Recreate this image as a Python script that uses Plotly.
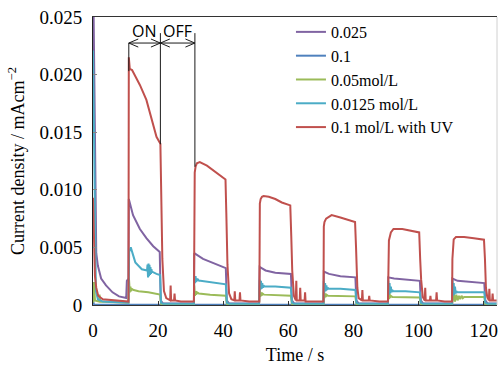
import plotly.graph_objects as go

# ---------------- data ----------------
series_names = ["0.025", "0.1", "0.05mol/L", "0.0125 mol/L", "0.1 mol/L with UV"]
series_colors = ["#8064A2", "#4F81BD", "#9BBB59", "#4BACC6", "#C0504D"]

t_purple = [0, 0.8, 1.0, 1.5, 2.5, 4, 6, 8, 10.2, 10.4, 10.9, 11.0, 12.3, 14.4, 16.4, 18.5, 20.5, 20.8, 21.5, 31.0,
            31.1, 33.8, 37.9, 40.8, 41.1, 41.8, 51.0,
            51.2, 53.0, 56.0, 60.8, 61.1, 61.8, 70.8,
            70.9, 72.5, 76.0, 80.6, 80.9, 81.6, 90.6,
            90.7, 92.5, 96.0, 100.4, 100.7, 101.4, 110.3,
            110.4, 112.0, 116.0, 120.2, 120.5, 121.2, 124.1]
v_purple = [0.030, 0.011, 0.0045, 0.0034, 0.0023, 0.0017, 0.0011, 0.00075, 0.0006, 0.0021, 0.0023, 0.0092, 0.0078,
            0.0066, 0.0058, 0.0051, 0.0046, 0.0004, 0.00012, 0.00012,
            0.0045, 0.0040, 0.0035, 0.0032, 0.0004, 0.00012, 0.00012,
            0.0033, 0.0030, 0.0028, 0.0027, 0.0004, 0.00012, 0.00012,
            0.0029, 0.0027, 0.0025, 0.0024, 0.0004, 0.00012, 0.00012,
            0.0024, 0.0023, 0.0022, 0.0021, 0.0004, 0.00012, 0.00012,
            0.0023, 0.0021, 0.0020, 0.0019, 0.0004, 0.00012, 0.00012]

t_blue = [0, 0.2, 0.5, 11.0, 11.2, 20.7, 20.9, 124.1]
v_blue = [0.0006, 0.0001, 0.00003, 0.00003, 0.00008, 0.00006, 0.00003, 0.00003]

t_green = [0, 0.3, 0.6, 1.8, 2.0, 2.2, 5, 10.9,
           11.05, 11.3, 11.5, 11.7, 11.9, 12.5, 14, 17, 20.6, 20.9, 21.5, 31.0,
           31.1, 31.3, 31.5, 31.7, 31.9, 32.5, 36, 40.8, 41.1, 41.8, 51.0,
           51.2, 51.4, 51.6, 51.8, 52.0, 52.5, 56, 60.8, 61.1, 61.8, 70.8,
           70.9, 71.1, 71.3, 71.5, 71.7, 72.2, 76, 80.6, 80.9, 81.6, 90.6,
           90.7, 90.9, 91.1, 91.3, 91.5, 92.0, 96, 100.4, 100.7, 101.4, 110.3,
           110.4, 110.8, 111.2, 111.6, 112.0, 112.4, 112.8, 113.2, 113.6, 114, 117, 120.2, 120.5, 121.2, 124.1]
v_green = [0.0002, 0.0020, 0.0004, 0.0003, 0.0009, 0.0003, 0.00025, 0.0002,
           0.0023, 0.0011, 0.0016, 0.0012, 0.0014, 0.0013, 0.0012, 0.0011, 0.0009, 0.0001, 0.00005, 0.00005,
           0.0017, 0.0008, 0.0012, 0.0009, 0.0011, 0.0010, 0.0009, 0.0008, 0.0001, 0.00005, 0.00005,
           0.0013, 0.0007, 0.0011, 0.0008, 0.0010, 0.0009, 0.00085, 0.0008, 0.0001, 0.00005, 0.00005,
           0.0012, 0.0006, 0.0010, 0.0007, 0.0009, 0.0008, 0.0008, 0.00075, 0.0001, 0.00005, 0.00005,
           0.0011, 0.0005, 0.0010, 0.0006, 0.0008, 0.0007, 0.0007, 0.00065, 0.0001, 0.00005, 0.00005,
           0.0004, 0.0010, 0.0003, 0.0009, 0.0004, 0.0008, 0.0005, 0.0008, 0.0006, 0.0007, 0.0007, 0.0007, 0.0001, 0.00005, 0.00005]

t_teal = [0, 0.6, 0.9, 1.5, 3, 10.9,
          11.1, 11.6, 13.0, 15.0, 16.6, 16.75, 16.9, 17.05, 17.2, 17.35, 17.5, 17.65, 17.8, 17.95, 18.1, 19.5, 20.6, 20.9, 21.5, 31.0,
          31.1, 31.3, 31.5, 31.7, 31.9, 32.1, 32.3, 32.6, 33.0, 36.0, 40.8, 41.1, 41.8, 51.0,
          51.2, 51.4, 51.6, 51.8, 52.0, 52.2, 52.4, 52.7, 53.0, 56.0, 60.8, 61.1, 61.8, 70.8,
          70.9, 71.1, 71.3, 71.5, 71.7, 71.9, 72.1, 72.4, 73.0, 76.0, 80.6, 80.9, 81.6, 90.6,
          90.7, 90.9, 91.1, 91.3, 91.5, 91.7, 91.9, 92.2, 93.0, 96.0, 100.4, 100.7, 101.4, 110.3,
          110.4, 110.6, 110.8, 111.0, 111.2, 111.4, 111.6, 111.9, 113.0, 116.0, 120.2, 120.5, 121.2, 124.1]
v_teal = [0.0221, 0.006, 0.0012, 0.0005, 0.0003, 0.0002,
          0.0046, 0.0050, 0.0037, 0.0031, 0.0030, 0.0035, 0.0024, 0.0036, 0.0025, 0.0035, 0.0026, 0.0033, 0.0027, 0.0031, 0.0029, 0.0027, 0.0026, 0.0002, 0.0001, 0.0001,
          0.0024, 0.0019, 0.0025, 0.0020, 0.0023, 0.0021, 0.0022, 0.0021, 0.0021, 0.0020, 0.0018, 0.0002, 0.0001, 0.0001,
          0.0022, 0.0013, 0.0021, 0.0014, 0.0019, 0.0015, 0.0017, 0.0016, 0.0016, 0.0016, 0.0015, 0.0002, 0.0001, 0.0001,
          0.0021, 0.0011, 0.0019, 0.0012, 0.0017, 0.0013, 0.0015, 0.0014, 0.0014, 0.0014, 0.0013, 0.0002, 0.0001, 0.0001,
          0.0021, 0.0009, 0.0019, 0.0010, 0.0016, 0.0011, 0.0013, 0.0012, 0.0012, 0.0012, 0.0011, 0.0002, 0.0001, 0.0001,
          0.0022, 0.0008, 0.0019, 0.0009, 0.0016, 0.0010, 0.0012, 0.0011, 0.0011, 0.0011, 0.0011, 0.0002, 0.0001, 0.0001]

t_red = [0, 0.3, 0.6, 1.0, 1.6, 3, 6, 10.9,
         11.0, 11.3, 12.0, 12.7, 14.4, 16.4, 18.5, 19.5, 20.7, 20.9, 21.3, 21.8, 22.5, 23.7, 23.85, 24.0, 24.9, 25.05, 25.2, 27, 31.0,
         31.25, 31.5, 31.9, 32.8, 35.0, 38.0, 40.7, 40.95, 41.3, 41.8, 42.5, 43.4, 43.55, 43.7, 45.0, 45.15, 45.3, 48, 51.1,
         51.25, 51.5, 51.9, 52.4, 54, 56, 58, 60.6, 60.9, 61.2, 61.7, 62.3, 62.45, 62.6, 63.5, 63.65, 63.8, 65.0, 65.15, 65.3, 68, 70.8,
         70.9, 71.1, 71.6, 72.5, 73.3, 76, 78, 80.5, 80.8, 81.2, 81.6, 82.6, 82.75, 82.9, 84.7, 84.85, 85.0, 88, 90.6,
         90.7, 90.9, 91.5, 92.3, 95, 98, 100.2, 100.5, 100.8, 101.3, 101.9, 102.05, 102.2, 103.5, 103.65, 103.8, 105.4, 105.55, 105.7, 108, 110.3,
         110.4, 110.55, 110.8, 111.5, 114, 117, 120.1, 120.4, 120.7, 121.1, 121.6, 121.75, 121.9, 122.6, 122.75, 122.9, 124.1]
v_red = [0.0093, 0.005, 0.0025, 0.0015, 0.0008, 0.0005, 0.0004, 0.0003,
         0.0215, 0.0205, 0.0204, 0.0200, 0.0191, 0.0178, 0.0156, 0.0146, 0.0140, 0.0090, 0.0040, 0.0012, 0.0006, 0.0004, 0.0017, 0.0004, 0.0004, 0.0010, 0.0004, 0.0003, 0.0003,
         0.0115, 0.0120, 0.0123, 0.0124, 0.0121, 0.0115, 0.0109, 0.0080, 0.0035, 0.0010, 0.0005, 0.0004, 0.0012, 0.0004, 0.0004, 0.0011, 0.0004, 0.0003, 0.0003,
         0.0088, 0.0092, 0.0094, 0.00946, 0.0094, 0.0092, 0.0089, 0.00865, 0.0060, 0.0030, 0.0008, 0.0004, 0.0021, 0.0004, 0.0004, 0.0015, 0.0004, 0.0004, 0.0011, 0.0003, 0.0003, 0.0003,
         0.0068, 0.0072, 0.0075, 0.0077, 0.0078, 0.0076, 0.0074, 0.0072, 0.0050, 0.0015, 0.0006, 0.0004, 0.0013, 0.0004, 0.0004, 0.0008, 0.0004, 0.0003, 0.0003,
         0.0048, 0.0056, 0.0063, 0.0066, 0.0066, 0.0064, 0.0063, 0.0040, 0.0022, 0.0007, 0.0004, 0.0015, 0.0004, 0.0004, 0.0008, 0.0004, 0.0004, 0.0011, 0.0004, 0.0003, 0.0003,
         0.0040, 0.0054, 0.0057, 0.0059, 0.0059, 0.0058, 0.00567, 0.0040, 0.0015, 0.0007, 0.0004, 0.0014, 0.0004, 0.0004, 0.0010, 0.0004, 0.0004]

x_tick_vals = [0, 20, 40, 60, 80, 100, 120]
y_tick_vals = [0, 0.005, 0.010, 0.015, 0.020, 0.025]
y_tick_text = ["0", "0.005", "0.010", "0.015", "0.020", "0.025"]

# ON / OFF annotation positions (time, s)
ON_START = 11.0
ON_END = 20.7
OFF_END = 31.3
ARROW_Y = 0.02274
TOP_Y = 0.0236
LABEL_Y = 0.0238

# ---------------- figure ----------------
series = [(t_purple, v_purple), (t_blue, v_blue), (t_green, v_green), (t_teal, v_teal), (t_red, v_red)]
SERIF = "Liberation Serif, Times New Roman, serif"

fig = go.Figure()
for (tt, vv), name, col in zip(series, series_names, series_colors):
    fig.add_trace(go.Scatter(x=tt, y=vv, mode="lines", name=name,
                             line=dict(color=col, width=2)))

shapes = []
line_style = dict(color="#1a1a1a", width=1)
shapes.append(dict(type="line", xref="x", yref="y", x0=ON_START, x1=ON_START, y0=0.0203, y1=ARROW_Y, line=line_style))
shapes.append(dict(type="line", xref="x", yref="y", x0=ON_END, x1=ON_END, y0=0.01395, y1=TOP_Y, line=line_style))
shapes.append(dict(type="line", xref="x", yref="y", x0=OFF_END, x1=OFF_END, y0=0.0120, y1=TOP_Y, line=line_style))
shapes.append(dict(type="line", xref="x", yref="y", x0=ON_START, x1=ON_END, y0=ARROW_Y, y1=ARROW_Y, line=line_style))
shapes.append(dict(type="line", xref="x", yref="y", x0=ON_END, x1=OFF_END, y0=ARROW_Y, y1=ARROW_Y, line=line_style))
hx, hy = 2.9, 0.00035
for tip, d in [(ON_START, 1), (ON_END, -1), (ON_END, 1), (OFF_END, -1)]:
    path = f"M {tip + d*hx},{ARROW_Y + hy} L {tip},{ARROW_Y} L {tip + d*hx},{ARROW_Y - hy}"
    shapes.append(dict(type="path", xref="x", yref="y", path=path, line=line_style))
shapes.append(dict(type="line", xref="paper", yref="paper", x0=1, x1=1, y0=0, y1=1,
                   line=dict(color="#d0d0d0", width=1)))

annotations = [
    dict(x=(ON_START + ON_END) / 2, y=LABEL_Y, xref="x", yref="y", text="ON", showarrow=False,
         font=dict(family="Open Sans, Noto Sans, sans-serif", size=16, color="black")),
    dict(x=(ON_END + OFF_END) / 2, y=LABEL_Y, xref="x", yref="y", text="OFF", showarrow=False,
         font=dict(family="Open Sans, Noto Sans, sans-serif", size=16, color="black")),
]

fig.update_layout(
    width=498, height=365,
    margin=dict(l=93, r=1, t=17, b=60, autoexpand=False),
    paper_bgcolor="white", plot_bgcolor="white",
    font=dict(family=SERIF, size=18, color="black"),
    showlegend=True,
    legend=dict(x=0.49, y=1.007, xanchor="left", yanchor="top",
                bgcolor="rgba(0,0,0,0)", font=dict(family=SERIF, size=16, color="black"),
                tracegroupgap=0, itemwidth=30),
    shapes=shapes,
    annotations=annotations,
)
fig.update_xaxes(range=[0, 124.1], tickvals=x_tick_vals, ticks="inside", ticklen=4, automargin=False,
                 tickcolor="#333", showline=True, linecolor="#333", linewidth=1, mirror=True,
                 showgrid=False, zeroline=False, ticklabelstandoff=8,
                 title=dict(text="Time / s", standoff=8, font=dict(size=18)),
                 tickfont=dict(size=19))
fig.update_yaxes(range=[0, 0.025], tickvals=y_tick_vals, ticktext=y_tick_text, ticks="inside", ticklen=4,
                 automargin=False,
                 tickcolor="#888", showline=True, linecolor="#222", linewidth=1, mirror=False,
                 showgrid=False, zeroline=False, ticklabelstandoff=6,
                 title=dict(text="Current density / mAcm<sup>−2</sup>", standoff=10, font=dict(size=18)),
                 tickfont=dict(size=19))

fig.write_html("out.html", config={"displayModeBar": False},
               post_script="document.body.style.margin='0';")
